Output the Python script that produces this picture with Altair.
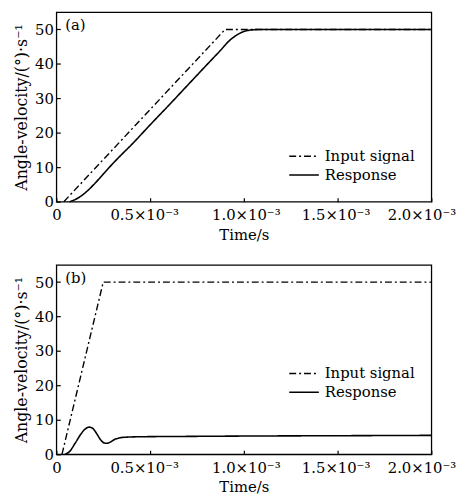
import altair as alt
import pandas as pd

FONT = "DejaVu Serif"
SERIES = ["Input signal", "Response"]
TIME_TICKS = [0, 0.0005, 0.001, 0.0015, 0.002]
V_TICKS = [0, 10, 20, 30, 40, 50]

# Panel (a)
a_input_t = [0.00004, 0.0009, 0.002]
a_input_v = [0, 50, 50]
a_resp_t = [0.00007, 0.0001, 0.00015, 0.0002, 0.00025, 0.0003, 0.00035, 0.0004, 0.0005,
            0.0006, 0.0007, 0.0008, 0.00088, 0.00092, 0.00096, 0.001, 0.00105, 0.0011, 0.002]
a_resp_v = [0, 0.6, 2.4, 5.0, 8.0, 11.0, 13.8, 16.5, 22.3,
            28.0, 33.8, 39.6, 44.2, 46.6, 48.3, 49.4, 49.9, 50.0, 50.0]

# Panel (b)
b_input_t = [0.00003, 0.00025, 0.002]
b_input_v = [0, 50, 50]
b_resp_t = [0.000046, 0.00007, 0.0001, 0.00013, 0.000155, 0.000175, 0.000195, 0.000215,
            0.000235, 0.000255, 0.00027, 0.00029, 0.00031, 0.00034, 0.00038, 0.00045,
            0.0007, 0.001, 0.0015, 0.002]
b_resp_v = [0, 0.8, 3.2, 5.8, 7.4, 7.9, 7.5, 6.0,
            4.3, 3.3, 3.2, 3.6, 4.3, 4.8, 5.0, 5.1,
            5.2, 5.3, 5.4, 5.5]


def frame(t, v, name):
    return pd.DataFrame({"t": t, "v": v, "s": name})


AX = dict(domain=False, grid=False, tickSize=4, offset=-4,
          labelFont=FONT, titleFont=FONT, labelFontSize=15,
          labelColor="black", titleColor="black", tickColor="black",
          tickWidth=1.2, titleFontWeight="normal")

X_LABEL_SHIFT = {
    "condition": [
        {"test": "datum.value == 0", "value": 0},
        {"test": "datum.value > 0.0004 && datum.value < 0.0006", "value": -6},
        {"test": "datum.value > 0.0009 && datum.value < 0.0011", "value": 2},
        {"test": "datum.value > 0.0014 && datum.value < 0.0016", "value": -2},
    ],
    "value": -10,
}


def panel(label, inp_t, inp_v, resp_t, resp_v, leg_y):
    x = alt.X("t:Q", scale=alt.Scale(domain=[0, 0.002], nice=False),
              axis=alt.Axis(values=TIME_TICKS, title="Time/s", titleFontSize=15,
                            labelExpr="datum.value == 0 ? '0' : format(datum.value*1000, '.1f') + '×10⁻³'",
                            labelPadding=6, titlePadding=5, labelFlush=False,
                            labelOffset=X_LABEL_SHIFT, **AX))
    y = alt.Y("v:Q", scale=alt.Scale(domain=[0, 55], nice=False),
              axis=alt.Axis(values=V_TICKS, title="Angle-velocity/(°)·s⁻¹", titleFontSize=16,
                            labelPadding=3, titlePadding=5, **AX))
    dash = alt.StrokeDash("s:N", scale=alt.Scale(domain=SERIES, range=[[7, 3, 2, 3], [1, 0]]),
                          legend=alt.Legend(title=None, orient="none", legendX=240, legendY=leg_y,
                                            symbolType="M-1.5,0H1.5", symbolSize=400,
                                            symbolStrokeColor="black", symbolStrokeWidth=1.5,
                                            symbolFillColor="transparent",
                                            labelFont=FONT, labelFontSize=15, labelColor="black",
                                            rowPadding=0, labelOffset=10))
    inp = alt.Chart(frame(inp_t, inp_v, SERIES[0])).mark_line(
        color="black", strokeWidth=1.4).encode(x=x, y=y, strokeDash=dash)
    resp = alt.Chart(frame(resp_t, resp_v, SERIES[1])).mark_line(
        color="black", strokeWidth=1.6, interpolate="monotone").encode(x=x, y=y, strokeDash=dash)
    txt = alt.Chart(pd.DataFrame({"label": [label]})).mark_text(
        font=FONT, fontSize=15, align="left", baseline="middle", color="black").encode(
        text="label:N", x=alt.value(9), y=alt.value(13))
    return alt.layer(inp, resp, txt).properties(width=380, height=192)


top = panel("(a)", a_input_t, a_input_v, a_resp_t, a_resp_v, 135)
bottom = panel("(b)", b_input_t, b_input_v, b_resp_t, b_resp_v, 99)

chart = alt.vconcat(top, bottom, spacing=64, bounds="flush").resolve_legend(
    strokeDash="independent").properties(
    padding={"left": 5, "top": 0, "right": 0, "bottom": 0},
    background="white"
).configure_view(stroke="black", strokeWidth=1.3)

chart.save("out.html", embed_options={"renderer": "svg", "actions": False})
